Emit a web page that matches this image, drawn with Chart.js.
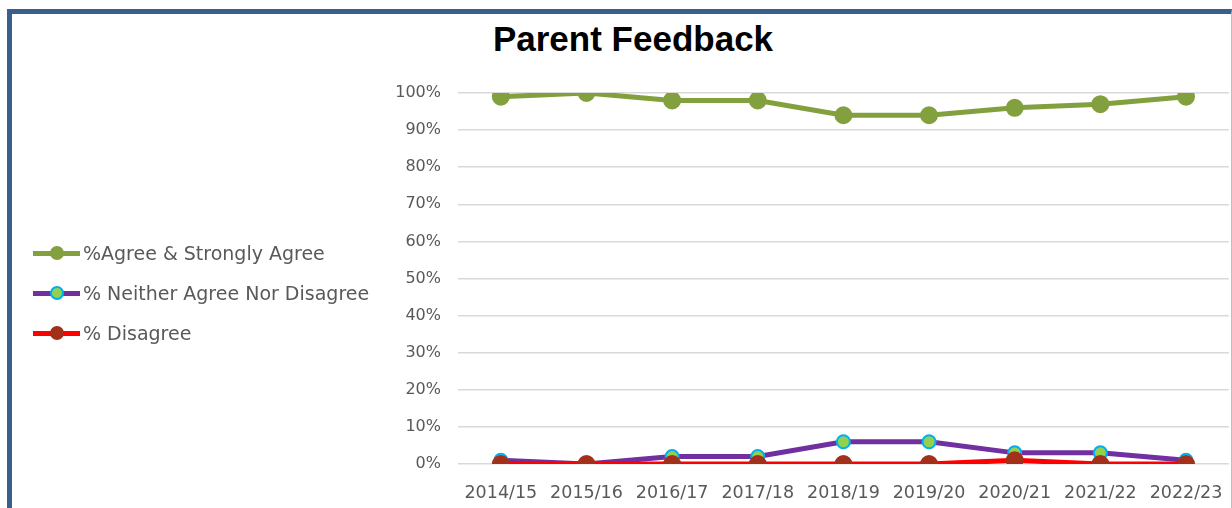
<!DOCTYPE html>
<html>
<head>
<meta charset="utf-8">
<script src="https://cdn.jsdelivr.net/npm/chart.js@4.4.0/dist/chart.umd.min.js"></script>
<style>
  body { margin: 0; background: #fff; }
  #wrap { position: relative; width: 1232px; height: 508px; overflow: hidden; }
  #frame { position: absolute; left: 7px; top: 9px; width: 1219px; height: 520px;
           border-top: 5px solid #3a5f8c; border-left: 5px solid #3a5f8c; border-right: 1px solid #b4c0d0; }
  #title { position: absolute; left: 0; width: 1266px; top: 19px; text-align: center;
           font: bold 35px "Liberation Sans", Arial, sans-serif; color: #000; margin: 0; }
  canvas#myChart { position: absolute; left: 0; top: 0; }
  .leg { position: absolute; left: 33px; height: 24px; font: 19px "DejaVu Sans", sans-serif; color: #595959; }
  .leg .ln { position: absolute; left: 0; top: 10px; width: 47px; height: 5px; }
  .leg .mk { position: absolute; left: 17px; top: 5px; width: 14px; height: 14px; border-radius: 50%; box-sizing: border-box; }
  .leg span.tx { position: absolute; left: 50px; top: 0; white-space: nowrap; line-height: 24px; }
</style>
</head>
<body>
<div id="wrap">
  <div id="frame"></div>
  <h1 id="title">Parent Feedback</h1>
  <canvas id="myChart" width="1242" height="508"></canvas>
  <div id="legend"></div>
</div>
<script>
// Данные
const years = ['2014/15', '2015/16', '2016/17', '2017/18', '2018/19', '2019/20', '2020/21', '2021/22', '2022/23'];
const agree = [99, 100, 98, 98, 94, 94, 96, 97, 99];
const neither = [1, 0, 2, 2, 6, 6, 3, 3, 1];
const disagree = [0, 0, 0, 0, 0, 0, 1, 0, 0];
const seriesNames = ['%Agree & Strongly Agree', '% Neither Agree Nor Disagree', '% Disagree'];

const ctx = document.getElementById('myChart').getContext('2d');
Chart.defaults.font.family = '"DejaVu Sans", sans-serif';

const chart = new Chart(ctx, {
    type: 'line',
    data: {
        labels: years,
        datasets: [
            {
                label: seriesNames[0],
                data: agree,
                borderColor: '#83a03f',
                backgroundColor: '#83a03f',
                pointBackgroundColor: '#83a03f',
                pointBorderColor: '#83a03f',
                borderWidth: 5,
                pointRadius: 6.5,
                order: 2,
            },
            {
                label: seriesNames[1],
                data: neither,
                borderColor: '#7030a0',
                backgroundColor: '#92d050',
                pointBackgroundColor: '#92d050',
                pointBorderColor: '#00b0f0',
                pointBorderWidth: 2,
                borderWidth: 5,
                pointRadius: 6.5,
                order: 1,
            },
            {
                label: seriesNames[2],
                data: disagree,
                borderColor: '#ff0000',
                backgroundColor: '#a3301a',
                pointBackgroundColor: '#a3301a',
                pointBorderColor: '#a3301a',
                borderWidth: 5,
                pointRadius: 6.5,
                order: 0,
            }
        ]
    },
    options: {
        responsive: false,
        animation: false,
        layout: { padding: { left: 348, top: 93, right: 1, bottom: 0 } },
        plugins: {
            legend: { display: false },
            title: { display: false },
            tooltip: { enabled: false },
        },
        scales: {
            x: {
                offset: true,
                grid: { display: false, drawTicks: false },
                border: { display: false },
                ticks: { color: '#595959', font: { size: 17.5 }, padding: 19, maxRotation: 0 },
                afterFit: (s) => { s.height = 44; },
            },
            y: {
                min: 0,
                max: 100,
                ticks: { stepSize: 10, color: '#595959', font: { size: 16 }, padding: 17,
                         callback: (v) => v + '%' },
                grid: { color: '#d9d9d9', lineWidth: 1.5, drawTicks: false },
                border: { display: false },
                afterFit: (s) => { s.width = 110; },
            },
        },
    },
});

// Легенда слева
const legendStyles = [
    { line: '#83a03f', fill: '#83a03f', edge: '#83a03f' },
    { line: '#7030a0', fill: '#92d050', edge: '#00b0f0' },
    { line: '#ff0000', fill: '#a3301a', edge: '#a3301a' },
];
const legendTops = [241, 281, 321];
const legend = document.getElementById('legend');
seriesNames.forEach((name, i) => {
    const st = legendStyles[i];
    const item = document.createElement('div');
    item.className = 'leg';
    item.style.top = legendTops[i] + 'px';
    item.innerHTML = '<div class="ln" style="background:' + st.line + '"></div>' +
        '<div class="mk" style="background:' + st.fill + ';border:2px solid ' + st.edge + '"></div>' +
        '<span class="tx">' + name + '</span>';
    legend.appendChild(item);
});
</script>
</body>
</html>
